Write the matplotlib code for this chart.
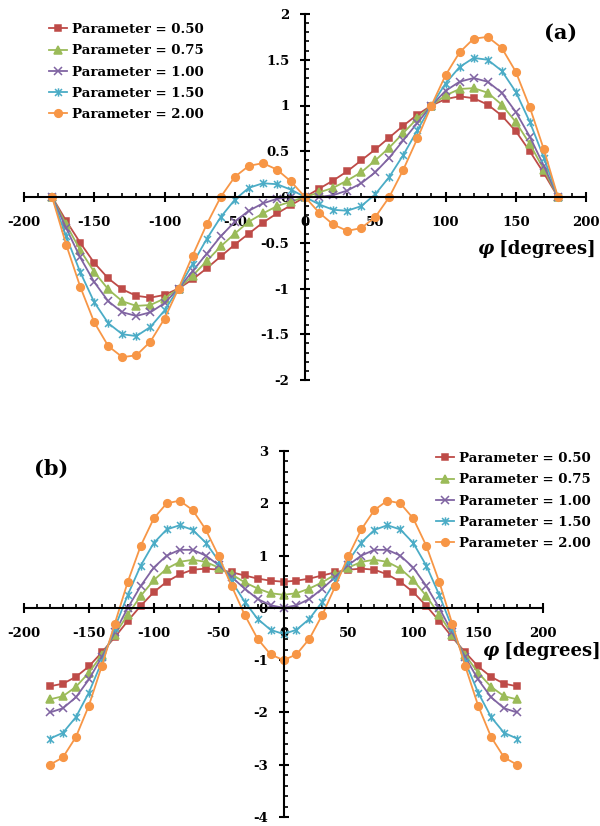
import matplotlib
matplotlib.use("Agg")
import matplotlib.pyplot as plt
from matplotlib.path import Path
from matplotlib.ticker import MultipleLocator, FuncFormatter

# angle grid (degrees)
phi = [-180, -170, -160, -150, -140, -130, -120, -110, -100, -90, -80, -70, -60,
       -50, -40, -30, -20, -10, 0, 10, 20, 30, 40, 50, 60, 70, 80, 90, 100, 110,
       120, 130, 140, 150, 160, 170, 180]

labels = ["Parameter = 0.50", "Parameter = 0.75", "Parameter = 1.00",
          "Parameter = 1.50", "Parameter = 2.00"]

# panel (a)
a050 = [0, -0.26, -0.50, -0.72, -0.89, -1.01, -1.08, -1.10, -1.07, -1.00, -0.90, -0.78, -0.65,
        -0.52, -0.40, -0.28, -0.18, -0.09, 0, 0.09, 0.18, 0.28, 0.40, 0.52, 0.65, 0.78, 0.90,
        1.00, 1.07, 1.10, 1.08, 1.01, 0.89, 0.72, 0.50, 0.26, 0]
a075 = [0, -0.30, -0.58, -0.82, -1.01, -1.14, -1.19, -1.18, -1.11, -1.00, -0.86, -0.70, -0.54,
        -0.40, -0.27, -0.18, -0.10, -0.05, 0, 0.05, 0.10, 0.18, 0.27, 0.40, 0.54, 0.70, 0.86,
        1.00, 1.11, 1.18, 1.19, 1.14, 1.01, 0.82, 0.58, 0.30, 0]
a100 = [0, -0.34, -0.66, -0.93, -1.14, -1.26, -1.30, -1.26, -1.16, -1.00, -0.81, -0.62, -0.43,
        -0.27, -0.15, -0.07, -0.02, 0.00, 0, 0.00, 0.02, 0.07, 0.15, 0.27, 0.43, 0.62, 0.81,
        1.00, 1.16, 1.26, 1.30, 1.26, 1.14, 0.93, 0.66, 0.34, 0]
a150 = [0, -0.43, -0.82, -1.15, -1.38, -1.50, -1.52, -1.42, -1.24, -1.00, -0.73, -0.46, -0.22,
        -0.03, 0.10, 0.15, 0.14, 0.08, 0, -0.08, -0.14, -0.15, -0.10, 0.03, 0.22, 0.46, 0.73,
        1.00, 1.24, 1.42, 1.52, 1.50, 1.38, 1.15, 0.82, 0.43, 0]
a200 = [0, -0.52, -0.98, -1.37, -1.63, -1.75, -1.73, -1.58, -1.33, -1.00, -0.64, -0.30, 0.00,
        0.22, 0.34, 0.37, 0.30, 0.17, 0, -0.17, -0.30, -0.37, -0.34, -0.22, 0.00, 0.30, 0.64,
        1.00, 1.33, 1.58, 1.73, 1.75, 1.63, 1.37, 0.98, 0.52, 0]

# panel (b)
b050 = [-1.50, -1.45, -1.32, -1.12, -0.85, -0.56, -0.25, 0.04, 0.30, 0.50, 0.64, 0.73, 0.75,
        0.73, 0.68, 0.62, 0.56, 0.52, 0.50, 0.52, 0.56, 0.62, 0.68, 0.73, 0.75, 0.73, 0.64,
        0.50, 0.30, 0.04, -0.25, -0.56, -0.85, -1.12, -1.32, -1.45, -1.50]
b075 = [-1.75, -1.69, -1.51, -1.24, -0.90, -0.51, -0.13, 0.23, 0.53, 0.75, 0.88, 0.92, 0.88,
        0.77, 0.64, 0.49, 0.37, 0.28, 0.25, 0.28, 0.37, 0.49, 0.64, 0.77, 0.88, 0.92, 0.88,
        0.75, 0.53, 0.23, -0.13, -0.51, -0.90, -1.24, -1.51, -1.69, -1.75]
b100 = [-2.00, -1.92, -1.71, -1.37, -0.94, -0.47, 0.00, 0.42, 0.77, 1.00, 1.11, 1.11, 1.00,
        0.82, 0.59, 0.37, 0.17, 0.05, 0.00, 0.05, 0.17, 0.37, 0.59, 0.82, 1.00, 1.11, 1.11,
        1.00, 0.77, 0.42, 0.00, -0.47, -0.94, -1.37, -1.71, -1.92, -2.00]
b150 = [-2.50, -2.39, -2.09, -1.62, -1.03, -0.38, 0.25, 0.81, 1.24, 1.50, 1.58, 1.49, 1.25,
        0.90, 0.51, 0.12, -0.21, -0.42, -0.50, -0.42, -0.21, 0.12, 0.51, 0.90, 1.25, 1.49, 1.58,
        1.50, 1.24, 0.81, 0.25, -0.38, -1.03, -1.62, -2.09, -2.39, -2.50]
b200 = [-3.00, -2.86, -2.47, -1.87, -1.11, -0.30, 0.50, 1.19, 1.71, 2.00, 2.05, 1.87, 1.50,
        0.99, 0.42, -0.13, -0.59, -0.89, -1.00, -0.89, -0.59, -0.13, 0.42, 0.99, 1.50, 1.87, 2.05,
        2.00, 1.71, 1.19, 0.50, -0.30, -1.11, -1.87, -2.47, -2.86, -3.00]

colors = ["#BE4B48", "#9BBB59", "#8064A2", "#4BACC6", "#F79646"]
# excel-like "star": an x with a vertical bar
star = Path([(-1, -1), (1, 1), (-1, 1), (1, -1), (0, -1.2), (0, 1.2)],
            [Path.MOVETO, Path.LINETO, Path.MOVETO, Path.LINETO, Path.MOVETO, Path.LINETO])
markers = ["s", "^", "x", star, "o"]
msizes = [5, 5.5, 5.5, 6, 5.5]

FONT = "DejaVu Serif"
plt.rcParams['font.family'] = [FONT]
plt.rcParams['font.weight'] = 'bold'

fig = plt.figure(figsize=(6, 8.26), dpi=100)
W, H = 600, 826


def px_axes(x0, x1, ytop, ybot):
    return fig.add_axes([x0 / W, 1 - ybot / H, (x1 - x0) / W, (ybot - ytop) / H])


def style(ax, ylim, ymajor, yminor):
    ax.set_xlim(-200, 200)
    ax.set_ylim(*ylim)
    for s in ['top', 'right']:
        ax.spines[s].set_visible(False)
    for s in ['left', 'bottom']:
        ax.spines[s].set_position('zero')
        ax.spines[s].set_linewidth(1.5)
    ax.xaxis.set_major_locator(MultipleLocator(50))
    ax.xaxis.set_minor_locator(MultipleLocator(10))
    ax.yaxis.set_major_locator(MultipleLocator(ymajor))
    ax.yaxis.set_minor_locator(MultipleLocator(yminor))
    fmt = FuncFormatter(lambda v, p: f"{v:g}")
    ax.xaxis.set_major_formatter(fmt)
    ax.yaxis.set_major_formatter(fmt)
    ax.tick_params(which='major', direction='inout', length=6.5, width=1.5,
                   labelsize=9.5)
    ax.tick_params(which='minor', direction='in', length=3.2, width=1.2)
    ax.tick_params(axis='x', which='major', pad=10.5)
    ax.tick_params(axis='y', which='major', pad=8)
    for t in ax.get_xticklabels() + ax.get_yticklabels():
        t.set_fontweight('bold')
    ax.patch.set_alpha(0)


def draw(ax, series):
    for y, c, m, ms, lab in zip(series, colors, markers, msizes, labels):
        ax.plot(phi, y, color=c, lw=1.3, marker=m, ms=ms, mfc=c, mec=c,
                mew=1.1, label=lab, clip_on=False)


ax1 = px_axes(24, 586, 14, 380)
style(ax1, (-2, 2), 0.5, 0.1)
draw(ax1, [a050, a075, a100, a150, a200])

ax2 = px_axes(24, 543, 451, 817)
style(ax2, (-4, 3), 1, 0.2)
draw(ax2, [b050, b075, b100, b150, b200])

leg_kw = dict(frameon=False, handlelength=1.35, handletextpad=0.35,
              labelspacing=0.62, borderpad=0, borderaxespad=0, loc='upper left',
              prop={'family': FONT, 'weight': 'bold', 'size': 9.6})
ax1.legend(bbox_transform=fig.transFigure, bbox_to_anchor=(49 / W, 1 - 23 / H), **leg_kw)
ax2.legend(bbox_transform=fig.transFigure, bbox_to_anchor=(436 / W, 1 - 452 / H), **leg_kw)

fig.text(561 / W, 1 - 33 / H, "(a)", fontsize=15, fontweight='bold', ha='center', va='center')
fig.text(51 / W, 1 - 469 / H, "(b)", fontsize=15, fontweight='bold', ha='center', va='center')

# axis titles: italic phi + upright "[degrees]"
fig.canvas.draw()
r = fig.canvas.get_renderer()
for xr, yc in [(596, 249), (601, 651)]:
    t = fig.text(xr / W, 1 - yc / H, " [degrees]", fontsize=13, fontweight='bold',
                 ha='right', va='center')
    bb = t.get_window_extent(renderer=r)
    fig.text(bb.x0 / W, 1 - yc / H, "φ", fontsize=13, fontweight='bold', style='italic',
             ha='right', va='center')

fig.savefig("out.png", dpi=100)
